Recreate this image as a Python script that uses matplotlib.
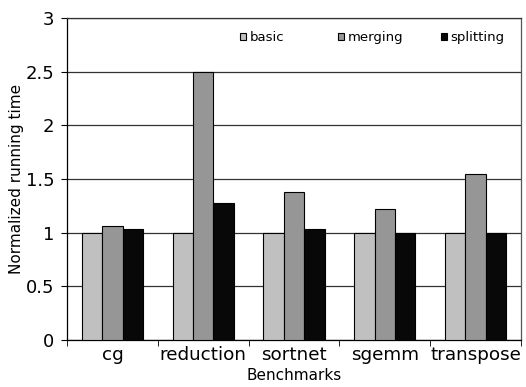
import matplotlib.pyplot as plt
from matplotlib.patches import Patch
import numpy as np

benchmarks = ['cg', 'reduction', 'sortnet', 'sgemm', 'transpose']
basic = [1.0, 1.0, 1.0, 1.0, 1.0]
merging = [1.06, 2.5, 1.38, 1.22, 1.55]
splitting = [1.03, 1.28, 1.03, 1.0, 1.0]
yticks = [0, 0.5, 1, 1.5, 2, 2.5, 3]
ytick_labels = ['0', '0.5', '1', '1.5', '2', '2.5', '3']

plt.rcParams['font.family'] = ['DejaVu Sans']

fig = plt.figure(figsize=(5.26, 3.87), dpi=100)
ax = fig.add_axes([67 / 526, 1 - 340 / 387, 454 / 526, 322 / 387])

x = np.arange(len(benchmarks))
w = 0.225
series = [('basic', basic, '#c0c0c0'),
          ('merging', merging, '#969696'),
          ('splitting', splitting, '#080808')]
for i, (name, vals, color) in enumerate(series):
    ax.bar(x + (i - 1) * w, vals, w, color=color, edgecolor='black',
           linewidth=0.8, label=name, zorder=3)

ax.set_xlim(-0.5, len(benchmarks) - 0.5)
ax.set_ylim(0, 3)
ax.set_yticks(yticks)
ax.set_yticklabels(ytick_labels, fontsize=13)
ax.set_xticks(x)
ax.set_xticklabels(benchmarks, fontsize=13.2)
ax.set_xticks(np.arange(len(benchmarks) + 1) - 0.5, minor=True)
ax.tick_params(axis='x', which='major', length=0, pad=4)
ax.tick_params(axis='x', which='minor', length=4, direction='out')
ax.tick_params(axis='y', length=4, direction='out', pad=5)
ax.yaxis.grid(True, color='#333333', linewidth=0.9, zorder=0)
for s in ax.spines.values():
    s.set_linewidth(0.9)
ax.spines['right'].set_color('#555555')
ax.spines['top'].set_color('#333333')

ax.set_xlabel('Benchmarks', fontsize=11, labelpad=3)
ax.set_ylabel('Normalized running time', fontsize=11, labelpad=1)

# legend entries sit at uneven spacing, so place each one on its own
legend_x = [0.382, 0.597, 0.823]
legends = []
for (name, vals, color), lx in zip(series, legend_x):
    h = Patch(facecolor=color, edgecolor='black', linewidth=0.8)
    leg = ax.legend([h], [name], loc='center left', bbox_to_anchor=(lx, 0.94),
                    frameon=False, fontsize=9.5, handlelength=0.45,
                    handleheight=0.45, handletextpad=0.25, borderpad=0,
                    borderaxespad=0)
    legends.append(leg)
for leg in legends[:-1]:
    ax.add_artist(leg)

fig.savefig('out.png', dpi=100)
